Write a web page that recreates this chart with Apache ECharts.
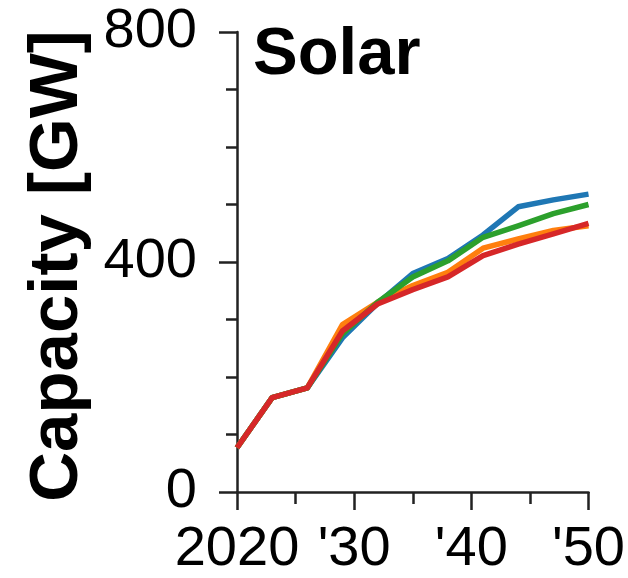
<!DOCTYPE html>
<html>
<head>
<meta charset="utf-8">
<script src="https://cdn.jsdelivr.net/npm/echarts@6/dist/echarts.min.js"></script>
<style>
html,body{margin:0;padding:0;background:#fff;}
#chart{width:628px;height:578px;}
</style>
</head>
<body>
<div id="chart"></div>
<script>
const years = [2020, 2023, 2026, 2029, 2032, 2035, 2038, 2041, 2044, 2047, 2050];
const blueValues   = [77, 164, 181, 268, 328, 380, 406, 447, 496, 508, 518];
const orangeValues = [77, 164, 181, 291, 330, 359, 382, 424, 440, 455, 463];
const greenValues  = [77, 164, 181, 275, 330, 374, 402, 443, 463, 484, 500];
const redValues    = [77, 164, 181, 280, 327, 352, 374, 411, 431, 449, 467];
const xTickLabels = {2020: '2020', 2030: "'30", 2040: "'40", 2050: "'50"};
const yTickLabels = {0: '0', 400: '400', 800: '800'};
const titleText = 'Solar';
const yAxisName = 'Capacity [GW]';

const seriesDefs = [
  {name: 'blue', values: blueValues, color: '#1f77b4'},
  {name: 'orange', values: orangeValues, color: '#ff7f0e'},
  {name: 'green', values: greenValues, color: '#2ca02c'},
  {name: 'red', values: redValues, color: '#d62728'}
];

const axisColor = '#222';
const chart = echarts.init(document.getElementById('chart'), null, {renderer: 'canvas'});
chart.setOption({
  animation: false,
  backgroundColor: '#fff',
  title: {
    text: titleText,
    left: 253, top: 22, padding: 0,
    textStyle: {fontFamily: 'Liberation Sans', fontWeight: 'bold', fontSize: 67, color: '#000'}
  },
  grid: {left: 237, right: 36, top: 32, bottom: 86, containLabel: false},
  xAxis: {
    type: 'value', min: 2020, max: 2050, interval: 10,
    axisLine: {show: true, lineStyle: {color: axisColor, width: 2.5}},
    axisTick: {show: true, length: 18, lineStyle: {color: axisColor, width: 2.5}},
    minorTick: {show: true, splitNumber: 2, length: 12, lineStyle: {color: axisColor, width: 2.5}},
    splitLine: {show: false},
    axisLabel: {
      margin: 30, fontSize: 56, fontFamily: 'Liberation Sans', color: '#000',
      formatter: v => xTickLabels[v] !== undefined ? xTickLabels[v] : ''
    }
  },
  yAxis: {
    type: 'value', min: 0, max: 800, interval: 400,
    name: yAxisName, nameLocation: 'middle', nameGap: 140, nameRotate: 90,
    nameTextStyle: {fontFamily: 'Liberation Sans', fontWeight: 'bold', fontSize: 69, color: '#000', padding: [0, 8, 0, 0]},
    axisLine: {show: true, lineStyle: {color: axisColor, width: 2.5}},
    axisTick: {show: true, length: 18, lineStyle: {color: axisColor, width: 2.5}},
    minorTick: {show: true, splitNumber: 4, length: 11, lineStyle: {color: axisColor, width: 2.5}},
    splitLine: {show: false},
    axisLabel: {
      margin: 40, fontSize: 56, fontFamily: 'Liberation Sans', color: '#000',
      formatter: v => yTickLabels[v] !== undefined ? yTickLabels[v] : ''
    }
  },
  series: seriesDefs.map(s => ({
    name: s.name, type: 'line', showSymbol: false, symbol: 'none',
    data: years.map((y, i) => [y, s.values[i]]),
    lineStyle: {color: s.color, width: 5.5, join: 'round'},
    itemStyle: {color: s.color},
    z: 2
  }))
});
</script>
</body>
</html>
